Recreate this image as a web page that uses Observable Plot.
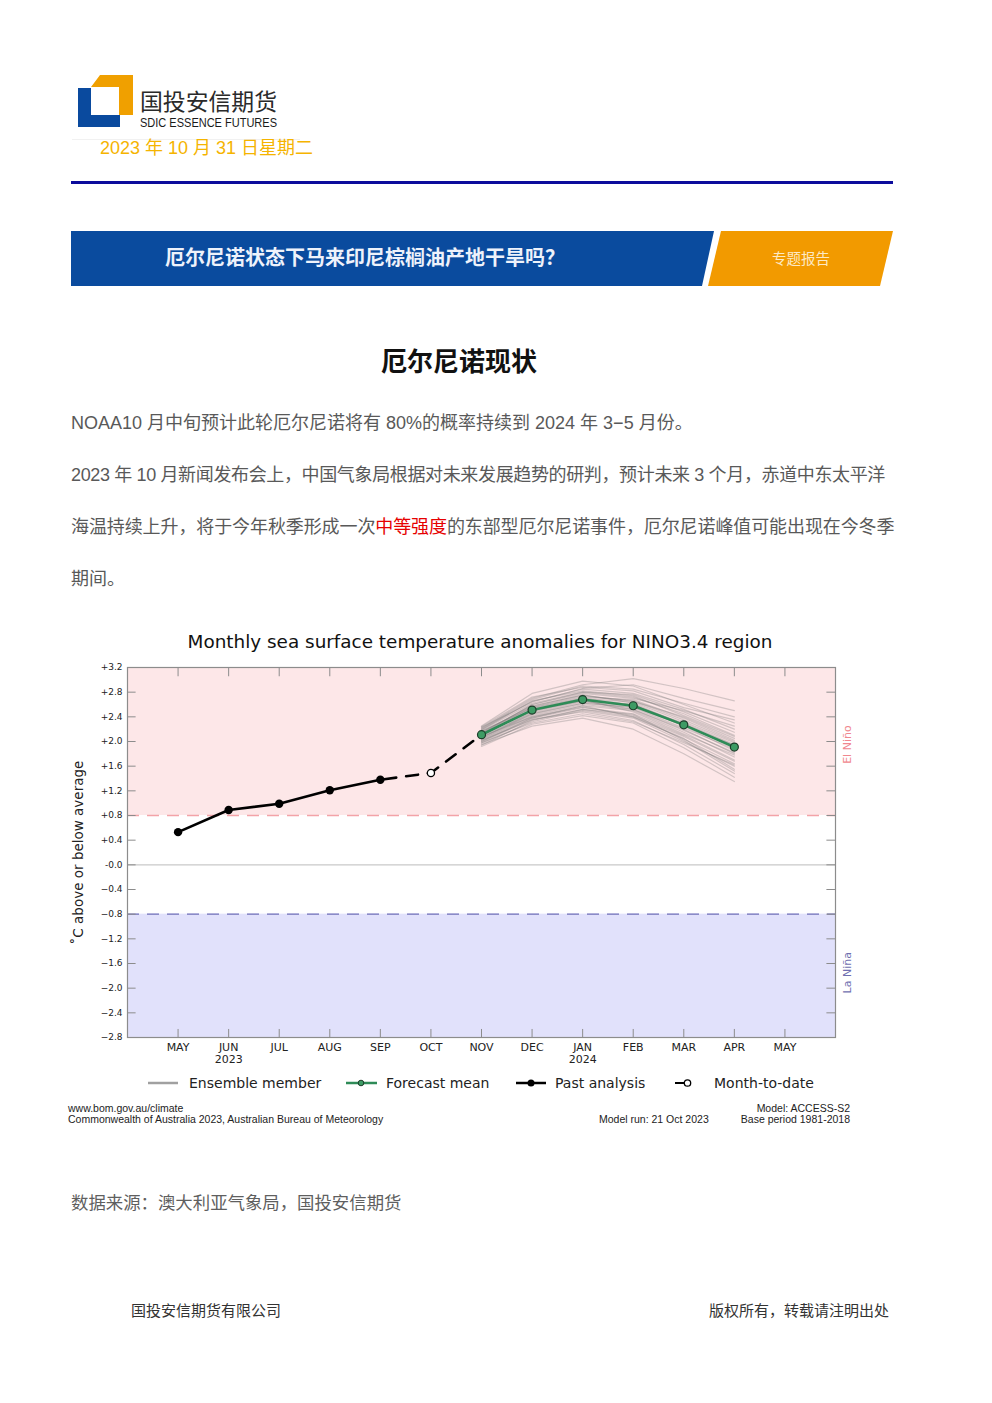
<!DOCTYPE html>
<html>
<head>
<meta charset="utf-8">
<script src="https://cdn.jsdelivr.net/npm/d3@7"></script>
<script src="https://cdn.jsdelivr.net/npm/@observablehq/plot@0.6"></script>
<style>
  html, body { margin: 0; padding: 0; background: #fff; }
  body { width: 992px; height: 1403px; position: relative; overflow: hidden;
         font-family: "Liberation Sans", "Noto Sans CJK SC", sans-serif; }
  .abs { position: absolute; white-space: nowrap; }
  .para { font-size: 18px; line-height: 24px; color: #595959; left: 71px; }
  .chartfont { font-family: "DejaVu Sans", sans-serif; }
  .foot { font-family: "Liberation Sans", sans-serif; font-size: 10.5px; line-height: 11px; color: #222; }
  .leg { font-family: "DejaVu Sans", sans-serif; font-size: 14px; line-height: 18px; color: #222; }
</style>
</head>
<body>
<!-- Logo -->
<svg class="abs" style="left:0;top:0" width="320" height="140">
  <polygon points="78,88 91,88 91,115 120,115 120,127 78,127" fill="#0a4a9e"/>
  <polygon points="91,87 100,75 133,75 133,115 119,115 119,87" fill="#f0a000"/>
  <text x="140" y="110" font-size="23" textLength="137" lengthAdjust="spacingAndGlyphs" fill="#2a2a2a" font-family="Noto Sans CJK SC">国投安信期货</text>
  <text x="140" y="127" font-size="13" textLength="137" lengthAdjust="spacingAndGlyphs" fill="#1a1a1a" font-family="Liberation Sans Narrow, Liberation Sans">SDIC ESSENCE FUTURES</text>
  <line x1="72" x2="300" y1="139.5" y2="139.5" stroke="#f1f1f1"/>
</svg>
<div class="abs" style="left:100px;top:136px;font-size:18px;line-height:24px;color:#f5b400">2023 年 10 月 31 日星期二</div>
<div class="abs" style="left:71px;top:181px;width:822px;height:3px;background:#0c0c9c"></div>

<!-- Banner -->
<svg class="abs" style="left:0;top:0" width="992" height="300">
  <polygon points="71,231 714,231 702,286 71,286" fill="#0a4b9e"/>
  <polygon points="721,231 893,231 880,286 708,286" fill="#f29a00"/>
</svg>
<div class="abs" style="left:165px;top:244px;font-size:20px;line-height:26px;color:#eef2fb;font-weight:bold;font-family:'Noto Sans CJK SC'">厄尔尼诺状态下马来印尼棕榈油产地干旱吗？</div>
<div class="abs" style="left:772px;top:248px;font-size:14.5px;line-height:20px;color:#fde9c4;font-family:'Noto Sans CJK SC'">专题报告</div>

<!-- Heading and paragraphs -->
<div class="abs" style="left:0;width:918px;text-align:center;top:344px;font-size:26px;line-height:32px;font-weight:bold;color:#111;font-family:'Noto Sans CJK SC'">厄尔尼诺现状</div>
<div class="abs para" style="top:411px">NOAA10 月中旬预计此轮厄尔尼诺将有 80%的概率持续到 2024 年 3−5 月份。</div>
<div class="abs para" style="top:463px;letter-spacing:-0.36px">2023 年 10 月新闻发布会上，中国气象局根据对未来发展趋势的研判，预计未来 3 个月，赤道中东太平洋</div>
<div class="abs para" style="top:515px;letter-spacing:-0.1px">海温持续上升，将于今年秋季形成一次<span style="color:#e60000">中等强度</span>的东部型厄尔尼诺事件，厄尔尼诺峰值可能出现在今冬季</div>
<div class="abs para" style="top:567px">期间。</div>

<!-- Chart title -->
<div class="abs chartfont" style="left:0;width:960px;text-align:center;top:630px;font-size:18.4px;line-height:24px;color:#111">Monthly sea surface temperature anomalies for NINO3.4 region</div>
<div id="chart" class="abs" style="left:60px;top:655px"></div>

<!-- Legend -->
<svg class="abs" style="left:0;top:1070px" width="992" height="26">
  <line x1="148" x2="178" y1="13" y2="13" stroke="#a0a0a0" stroke-width="2.5"/>
  <line x1="346" x2="377" y1="13" y2="13" stroke="#2e8b57" stroke-width="2.5"/>
  <circle cx="361" cy="13" r="2.8" fill="#3d9b64" stroke="#1d3d2a" stroke-width="1"/>
  <line x1="516" x2="546" y1="13" y2="13" stroke="#000" stroke-width="2.5"/>
  <circle cx="531" cy="13" r="3.5" fill="#000"/>
  <line x1="675" x2="684" y1="13" y2="13" stroke="#000" stroke-width="2"/>
  <circle cx="687.5" cy="13" r="3.2" fill="#fff" stroke="#000" stroke-width="1.3"/>
</svg>
<div class="abs leg" style="left:189px;top:1074px">Ensemble member</div>
<div class="abs leg" style="left:386px;top:1074px">Forecast mean</div>
<div class="abs leg" style="left:555px;top:1074px">Past analysis</div>
<div class="abs leg" style="left:714px;top:1074px">Month-to-date</div>

<div class="abs foot" style="left:68px;top:1103px">www.bom.gov.au/climate</div>
<div class="abs foot" style="left:68px;top:1114px">Commonwealth of Australia 2023, Australian Bureau of Meteorology</div>
<div class="abs foot" style="left:599px;top:1114px">Model run: 21 Oct 2023</div>
<div class="abs foot" style="right:142px;top:1103px;text-align:right">Model: ACCESS-S2</div>
<div class="abs foot" style="right:142px;top:1114px;text-align:right">Base period 1981-2018</div>

<div class="abs" style="left:71px;top:1190px;font-size:17.4px;line-height:24px;color:#5f5f5f;font-family:'Noto Sans CJK SC'">数据来源：澳大利亚气象局，国投安信期货</div>
<div class="abs" style="left:131px;top:1300px;font-size:15px;line-height:20px;color:#333;font-family:'Noto Sans CJK SC'">国投安信期货有限公司</div>
<div class="abs" style="left:709px;top:1300px;font-size:15px;line-height:20px;color:#333;font-family:'Noto Sans CJK SC'">版权所有，转载请注明出处</div>

<script>
// ---- Data ----
const monthKeys = ["2023-05","2023-06","2023-07","2023-08","2023-09","2023-10","2023-11","2023-12","2024-01","2024-02","2024-03","2024-04","2024-05"];
const xLabels = ["MAY","JUN\n2023","JUL","AUG","SEP","OCT","NOV","DEC","JAN\n2024","FEB","MAR","APR","MAY"];
const yTicks = [-2.8,-2.4,-2.0,-1.6,-1.2,-0.8,-0.4,0,0.4,0.8,1.2,1.6,2.0,2.4,2.8,3.2];

const pastMonths = ["2023-05","2023-06","2023-07","2023-08","2023-09"];
const pastValues = [0.53, 0.89, 0.99, 1.21, 1.38];

const mtdMonths = ["2023-10"];
const mtdValues = [1.49];

const forecastMonths = ["2023-11","2023-12","2024-01","2024-02","2024-03","2024-04"];
const forecastMean = [2.11, 2.51, 2.68, 2.58, 2.27, 1.91];

const ensembleMembers = [
  [2.05, 2.45, 2.62, 2.55, 2.22, 1.88],
  [2.18, 2.62, 2.80, 2.72, 2.45, 2.10],
  [1.98, 2.30, 2.45, 2.32, 1.98, 1.62],
  [2.22, 2.70, 2.92, 3.02, 2.86, 2.66],
  [2.10, 2.52, 2.70, 2.60, 2.25, 1.85],
  [1.95, 2.25, 2.38, 2.20, 1.80, 1.35],
  [2.15, 2.58, 2.75, 2.65, 2.40, 2.05],
  [2.08, 2.40, 2.58, 2.50, 2.15, 1.75],
  [2.25, 2.78, 2.98, 2.90, 2.60, 2.30],
  [2.02, 2.35, 2.52, 2.40, 2.05, 1.55],
  [2.12, 2.55, 2.72, 2.68, 2.38, 2.02],
  [2.20, 2.65, 2.85, 2.78, 2.52, 2.20],
  [1.92, 2.28, 2.42, 2.30, 1.90, 1.42],
  [2.06, 2.48, 2.66, 2.52, 2.18, 1.82],
  [2.14, 2.60, 2.78, 2.70, 2.50, 2.25],
  [2.00, 2.38, 2.55, 2.45, 2.10, 1.70],
  [2.24, 2.72, 2.88, 2.82, 2.55, 2.35],
  [2.09, 2.46, 2.64, 2.58, 2.30, 1.95],
  [1.97, 2.32, 2.50, 2.38, 2.00, 1.60],
  [2.16, 2.57, 2.76, 2.62, 2.28, 1.90],
  [2.11, 2.50, 2.68, 2.48, 2.12, 1.78],
  [2.19, 2.66, 2.82, 2.74, 2.42, 2.08],
  [2.04, 2.42, 2.60, 2.52, 2.20, 1.80],
  [2.13, 2.56, 2.74, 2.66, 2.35, 2.00],
  [1.99, 2.36, 2.48, 2.34, 1.95, 1.48],
  [2.21, 2.68, 2.90, 2.85, 2.62, 2.40],
  [2.07, 2.44, 2.62, 2.56, 2.26, 1.92],
  [2.17, 2.54, 2.70, 2.64, 2.32, 1.98],
  [2.03, 2.40, 2.56, 2.42, 2.08, 1.68],
  [2.10, 2.50, 2.66, 2.60, 2.28, 1.94],
  [2.23, 2.64, 2.86, 2.92, 2.70, 2.50],
  [1.94, 2.34, 2.52, 2.44, 2.02, 1.52],
  [2.12, 2.60, 2.80, 2.76, 2.48, 2.15],
  [2.01, 2.38, 2.58, 2.40, 2.04, 1.64]
];

const elNinoThreshold = 0.8;
const laNinaThreshold = -0.8;

// ---- Build tables ----
const mx = m => monthKeys.indexOf(m) + 1;
const past = pastMonths.map((m, i) => ({x: mx(m), y: pastValues[i]}));
const mtd = mtdMonths.map((m, i) => ({x: mx(m), y: mtdValues[i]}));
const fc = forecastMonths.map((m, i) => ({x: mx(m), y: forecastMean[i]}));
const dashed = [past[past.length - 1], mtd[0], fc[0]];
const ens = ensembleMembers.flatMap((vals, k) => vals.map((v, j) => ({member: k, x: mx(forecastMonths[j]), y: v})));
const tickX = monthKeys.map(mx);
const yMin = yTicks[0], yMax = yTicks[yTicks.length - 1];
const xMin = 0, xMax = monthKeys.length + 1;

const fmt = d => d > 0 ? "+" + d.toFixed(1) : d === 0 ? "-0.0" : "\u2212" + Math.abs(d).toFixed(1);

const chart = Plot.plot({
  width: 820, height: 417,
  marginLeft: 67, marginRight: 45, marginTop: 12, marginBottom: 35,
  style: {fontFamily: "DejaVu Sans", background: "transparent", overflow: "visible", color: "#222"},
  x: {domain: [xMin, xMax]},
  y: {domain: [yMin, yMax]},
  marks: [
    Plot.rect([0], {x1: xMin, x2: xMax, y1: elNinoThreshold, y2: yMax, fill: "#fde7e8"}),
    Plot.rect([0], {x1: xMin, x2: xMax, y1: yMin, y2: laNinaThreshold, fill: "#e1e1fb"}),
    Plot.ruleY([0], {stroke: "#c9c9c9", strokeWidth: 1.2}),
    Plot.ruleY([elNinoThreshold], {x1: xMin, x2: xMax, stroke: "#f3a3a8", strokeWidth: 1.6, strokeDasharray: "12,8"}),
    Plot.ruleY([laNinaThreshold], {x1: xMin, x2: xMax, stroke: "#6f6fb8", strokeWidth: 1.4, strokeDasharray: "12,8"}),
    Plot.line(ens, {x: "x", y: "y", z: "member", stroke: "#707070", strokeOpacity: 0.3, strokeWidth: 1.2}),
    Plot.line(dashed, {x: "x", y: "y", stroke: "#000", strokeWidth: 2.6, strokeDasharray: "12,10", strokeDashoffset: -4}),
    Plot.line(past, {x: "x", y: "y", stroke: "#000", strokeWidth: 2.6}),
    Plot.dot(past, {x: "x", y: "y", r: 4.2, fill: "#000"}),
    Plot.dot(mtd, {x: "x", y: "y", r: 3.6, fill: "#fff", stroke: "#000", strokeWidth: 1.3}),
    Plot.line(fc, {x: "x", y: "y", stroke: "#2e8b57", strokeWidth: 2.6}),
    Plot.dot(fc, {x: "x", y: "y", r: 4, fill: "#3d9b64", stroke: "#1d3d2a", strokeWidth: 1.2}),
    Plot.frame({stroke: "#8c8c8c", strokeWidth: 1.2}),
    // inward ticks
    Plot.ruleY(yTicks, {x1: xMin, x2: xMin + 0.17, stroke: "#8c8c8c"}),
    Plot.ruleY(yTicks, {x1: xMax - 0.17, x2: xMax, stroke: "#8c8c8c"}),
    Plot.ruleX(tickX, {y1: yMax, y2: yMax - 0.15, stroke: "#8c8c8c"}),
    Plot.ruleX(tickX, {y1: yMin, y2: yMin + 0.13, stroke: "#8c8c8c"}),
    Plot.axisY(yTicks, {tickSize: 0, tickPadding: 5, tickFormat: fmt, fontSize: 9, label: null}),
    Plot.axisX(tickX, {tickSize: 0, tickPadding: 5, tickFormat: i => xLabels[i - 1], fontSize: 11, label: null, lineHeight: 1.1}),
    Plot.text(["El Niño"], {frameAnchor: "right", textAnchor: "middle", dx: 12, y: 1.95, rotate: -90, fill: "#f0878e", fontSize: 11}),
    Plot.text(["La Niña"], {frameAnchor: "right", textAnchor: "middle", dx: 12, y: -1.75, rotate: -90, fill: "#6f6fb0", fontSize: 11}),
    Plot.text(["\u02DAC above or below average"], {frameAnchor: "left", textAnchor: "middle", dx: -49, rotate: -90, fill: "#222", fontSize: 13.5})
  ]
});
document.getElementById("chart").appendChild(chart);
</script>
</body>
</html>
